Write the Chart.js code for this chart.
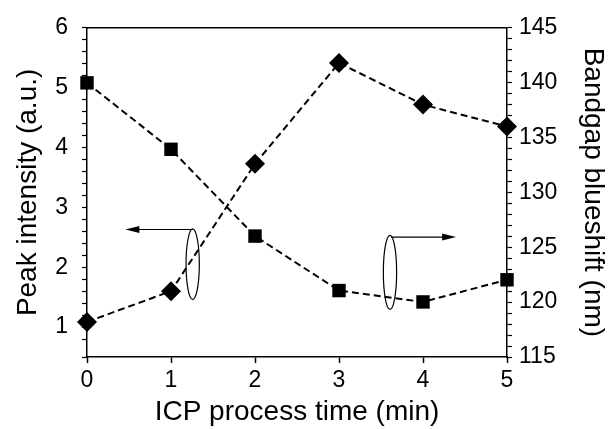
<!DOCTYPE html>
<html>
<head>
<meta charset="utf-8">
<script src="https://cdn.jsdelivr.net/npm/chart.js@4/dist/chart.umd.min.js"></script>
<style>
  body { margin: 0; background: #fff; }
</style>
</head>
<body>
<canvas id="chart" width="614" height="429"></canvas>
<script>
// ICP process time (min)
var times = [0, 1, 2, 3, 4, 5];
// Peak intensity (a.u.) - squares, left axis
var peakIntensity = [5.08, 3.97, 2.52, 1.61, 1.42, 1.79];
// Bandgap blueshift (nm) - diamonds, right axis
var blueshift = [118.2, 121.0, 132.6, 141.8, 138.0, 136.0];

function toPoints(xs, ys) {
    return xs.map(function (x, i) { return { x: x, y: ys[i] }; });
}

var FONT = 'Liberation Sans, Arial, sans-serif';

// arrows + ellipses marking which curve belongs to which axis
var frame = {
    id: 'frame',
    afterDatasetsDraw: function (chart) {
        var ctx = chart.ctx, a = chart.chartArea;
        var sx = chart.scales.x, sy = chart.scales.y;
        ctx.save();
        ctx.strokeStyle = '#000';
        ctx.fillStyle = '#000';
        // top border
        ctx.lineWidth = 1.5;
        ctx.beginPath();
        ctx.moveTo(a.left, a.top);
        ctx.lineTo(a.right, a.top);
        ctx.stroke();

        function ellipse(cx, cy, rx, ry) {
            ctx.lineWidth = 1.2;
            ctx.beginPath();
            ctx.ellipse(sx.getPixelForValue(cx), sy.getPixelForValue(cy),
                Math.abs(sx.getPixelForValue(cx + rx) - sx.getPixelForValue(cx)),
                Math.abs(sy.getPixelForValue(cy + ry) - sy.getPixelForValue(cy)), 0, 0, Math.PI * 2);
            ctx.stroke();
        }
        function arrow(x0, x1, yv) {
            var px0 = sx.getPixelForValue(x0), px1 = sx.getPixelForValue(x1);
            var py = sy.getPixelForValue(yv);
            var dir = px1 > px0 ? 1 : -1;
            ctx.lineWidth = 1.2;
            ctx.beginPath();
            ctx.moveTo(px0, py);
            ctx.lineTo(px1 - dir * 10, py);
            ctx.stroke();
            ctx.beginPath();
            ctx.moveTo(px1, py);
            ctx.lineTo(px1 - dir * 14, py - 3.5);
            ctx.lineTo(px1 - dir * 14, py + 3.5);
            ctx.closePath();
            ctx.fill();
        }
        ellipse(1.258, 2.05, 0.079, 0.59);
        arrow(1.258, 0.457, 2.63);
        ellipse(3.607, 1.914, 0.079, 0.618);
        arrow(3.62, 4.394, 2.504);
        ctx.restore();
    }
};

new Chart(document.getElementById('chart'), {
    type: 'scatter',
    data: {
        datasets: [{
            label: 'Peak intensity',
            data: toPoints(times, peakIntensity),
            yAxisID: 'y',
            showLine: true,
            borderColor: '#000',
            backgroundColor: '#000',
            borderWidth: 2,
            borderDash: [7, 4],
            pointStyle: 'rect',
            pointRadius: 9.5,
            pointBorderWidth: 0,
            clip: false
        }, {
            label: 'Bandgap blueshift',
            data: toPoints(times, blueshift),
            yAxisID: 'y1',
            showLine: true,
            borderColor: '#000',
            backgroundColor: '#000',
            borderWidth: 2,
            borderDash: [7, 4],
            pointStyle: 'rectRot',
            pointRadius: 10,
            pointBorderWidth: 0,
            clip: false
        }]
    },
    options: {
        responsive: false,
        animation: false,
        layout: { padding: { top: 25, left: 0, right: 0, bottom: 0 } },
        plugins: {
            legend: { display: false },
            tooltip: { enabled: false }
        },
        scales: {
            x: {
                type: 'linear',
                min: 0, max: 5,
                afterFit: function (s) { s.height = 72; },
                ticks: { stepSize: 1, color: '#000', padding: 4, font: { family: FONT, size: 23 } },
                grid: { drawOnChartArea: false, tickLength: 6, color: '#000', tickWidth: 1.5 },
                border: { color: '#000', width: 1.5 },
                title: { display: true, text: 'ICP process time (min)', color: '#000',
                         font: { family: FONT, size: 28, lineHeight: 1 }, padding: { bottom: 3 } }
            },
            y: {
                position: 'left',
                min: 0.5, max: 6,
                afterFit: function (s) { s.width = 87; },
                ticks: {
                    stepSize: 0.2, color: '#000', padding: 14, autoSkip: false,
                    font: { family: FONT, size: 23 },
                    callback: function (v) {
                        return Math.abs(v - Math.round(v)) < 1e-6 ? String(Math.round(v)) : '';
                    }
                },
                grid: { drawOnChartArea: false, tickLength: 5, color: '#000', tickWidth: 1.2 },
                border: { color: '#000', width: 1.5 },
                title: { display: true, text: 'Peak intensity (a.u.)', color: '#000',
                         font: { family: FONT, size: 28, lineHeight: 1 }, padding: { top: 14 } }
            },
            y1: {
                position: 'right',
                min: 115, max: 145,
                afterFit: function (s) { s.width = 107; },
                ticks: {
                    stepSize: 1, color: '#000', padding: 7, autoSkip: false,
                    font: { family: FONT, size: 23 },
                    callback: function (v) { return v % 5 === 0 ? String(v) : ''; }
                },
                grid: { drawOnChartArea: false, tickLength: 5, color: '#000', tickWidth: 1.2 },
                border: { color: '#000', width: 1.5 },
                title: { display: true, text: 'Bandgap blueshift (nm)', color: '#000',
                         font: { family: FONT, size: 28, lineHeight: 1 }, padding: { top: 7 } }
            }
        }
    },
    plugins: [frame]
});
</script>
</body>
</html>
